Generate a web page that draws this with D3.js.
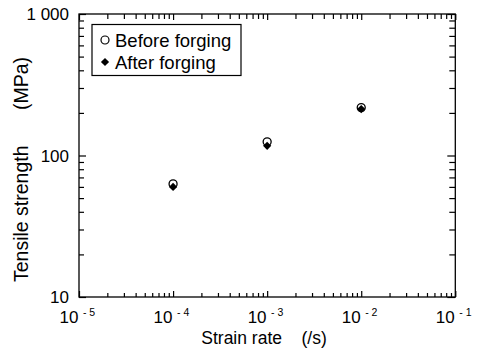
<!DOCTYPE html>
<html><head><meta charset="utf-8">
<script src="https://cdn.jsdelivr.net/npm/d3@7"></script>
<style>
html,body{margin:0;padding:0;background:#fff;}
svg{display:block;font-family:"Liberation Sans",Arial,sans-serif;}
</style></head>
<body>
<svg id="c" width="481" height="351"></svg>
<script>
const strainRates = [1e-4, 1e-3, 1e-2];
const beforeForging = [63, 125, 218];
const afterForging = [60, 117, 213];
const xTickExps = [-5, -4, -3, -2, -1];
const yTickValues = [10, 100, 1000];
const yTickLabels = ["10", "100", "1 000"];
const seriesNames = ["Before forging", "After forging"];

(function () {
const W = 481, H = 351;
const m = {l: 79, r: 25.7, t: 14, b: 54};
const svg = d3.select("#c");
const x = d3.scaleLog().domain([1e-5, 1e-1]).range([m.l, W - m.r]);
const y = d3.scaleLog().domain([10, 1000]).range([H - m.b, m.t]);

const xMajor = xTickExps.map(e => Math.pow(10, e));
const xMinor = [];
for (let e = -5; e < -1; e++) for (let k = 2; k <= 9; k++) xMinor.push(k * Math.pow(10, e));
const yMinor = [];
for (let e = 1; e < 3; e++) for (let k = 2; k <= 9; k++) yMinor.push(k * Math.pow(10, e));

function axisGroup(axis, tx, ty) {
  const g = svg.append("g").attr("transform", `translate(${tx},${ty})`).call(axis);
  g.select(".domain").remove();
  g.selectAll("line").attr("stroke", "#000").attr("stroke-width", 1.2);
  g.selectAll("text").remove();
  return g;
}
const pTop = m.t, pBot = H - m.b, pLeft = m.l, pRight = W - m.r;
axisGroup(d3.axisTop(x).tickValues(xMajor).tickSize(6).tickFormat(""), 0, pBot);
axisGroup(d3.axisTop(x).tickValues(xMinor).tickSize(4).tickFormat(""), 0, pBot);
axisGroup(d3.axisBottom(x).tickValues(xMajor).tickSize(6).tickFormat(""), 0, pTop);
axisGroup(d3.axisBottom(x).tickValues(xMinor).tickSize(5).tickFormat(""), 0, pTop);
axisGroup(d3.axisRight(y).tickValues(yTickValues).tickSize(7).tickFormat(""), pLeft, 0);
axisGroup(d3.axisRight(y).tickValues(yMinor).tickSize(5).tickFormat(""), pLeft, 0);
axisGroup(d3.axisLeft(y).tickValues(yTickValues).tickSize(8).tickFormat(""), pRight, 0);
axisGroup(d3.axisLeft(y).tickValues(yMinor).tickSize(6).tickFormat(""), pRight, 0);

svg.append("rect").attr("x", pLeft).attr("y", pTop).attr("width", pRight - pLeft).attr("height", pBot - pTop)
  .attr("fill", "none").attr("stroke", "#000").attr("stroke-width", 1.3);

svg.append("g").selectAll("text").data(yTickValues).join("text")
  .attr("x", pLeft - 10).attr("y", d => y(d)).attr("dy", "0.36em")
  .attr("text-anchor", "end").attr("font-size", 17).attr("fill", "#000")
  .text((d, i) => yTickLabels[i]);

const xl = svg.append("g").selectAll("text").data(xTickExps).join("text")
  .attr("x", d => x(Math.pow(10, d)) - 19.5).attr("y", pBot + 26)
  .attr("text-anchor", "start").attr("fill", "#000");
xl.append("tspan").attr("font-size", 17).text("10");
xl.append("tspan").attr("font-size", 10.5).attr("dx", 4.5).attr("dy", -7)
  .text(d => "- " + Math.abs(d));

svg.append("text").attr("x", 264).attr("y", 344).attr("text-anchor", "middle")
  .attr("font-size", 17.5).attr("fill", "#000").attr("xml:space", "preserve")
  .text("Strain rate    (/s)");
const yt = svg.append("g").attr("transform", "translate(27.5,0) rotate(-90)");
yt.append("text").attr("x", -282).attr("y", 0).attr("text-anchor", "start")
  .attr("font-size", 19.5).attr("fill", "#000").text("Tensile strength");
yt.append("text").attr("x", -57).attr("y", 0).attr("text-anchor", "end")
  .attr("font-size", 19.5).attr("fill", "#000").text("(MPa)");

const pts = strainRates.map((r, i) => ({r, b: beforeForging[i], a: afterForging[i]}));
svg.append("g").selectAll("circle").data(pts).join("circle")
  .attr("cx", d => x(d.r)).attr("cy", d => y(d.b)).attr("r", 4)
  .attr("fill", "#fff").attr("stroke", "#000").attr("stroke-width", 1.3);
const diamond = d3.symbol().type(d3.symbolSquare).size(34);
svg.append("g").selectAll("path").data(pts).join("path")
  .attr("d", diamond)
  .attr("transform", d => `translate(${x(d.r)},${y(d.a)}) rotate(45)`)
  .attr("fill", "#000");

const lg = svg.append("g");
lg.append("rect").attr("x", 92).attr("y", 24.5).attr("width", 149).attr("height", 51)
  .attr("fill", "#fff").attr("stroke", "#000").attr("stroke-width", 1.2);
lg.append("circle").attr("cx", 105).attr("cy", 40).attr("r", 4)
  .attr("fill", "#fff").attr("stroke", "#000").attr("stroke-width", 1.2);
lg.append("path").attr("d", diamond).attr("transform", "translate(105,62) rotate(45)").attr("fill", "#000");
lg.selectAll("text").data(seriesNames).join("text")
  .attr("x", 115).attr("y", (d, i) => 46.5 + i * 22).attr("font-size", 18.5).attr("fill", "#000")
  .text(d => d);
})();
</script>
</body></html>
